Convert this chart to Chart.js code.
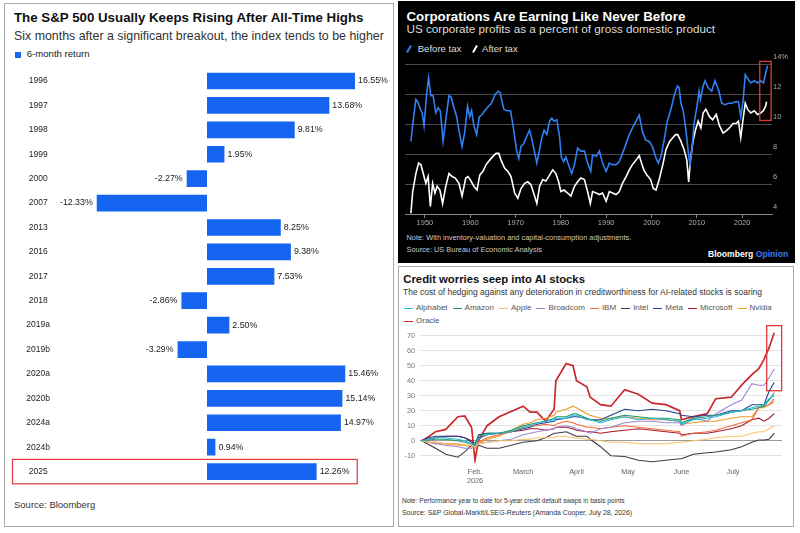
<!DOCTYPE html>
<html lang="en">
<head>
    <meta charset="UTF-8">
    <title>All-time highs, record profits and AI credit worries</title>
    <style>
        body {
            margin: 0;
            width: 800px;
            height: 533px;
            position: relative;
            overflow: hidden;
            background: #fff;
            font-family: "Liberation Sans", Arial, sans-serif;
        }
        .panel { position: absolute; box-sizing: border-box; }
        .txt {
            position: absolute;
            white-space: nowrap;
            line-height: 1;
        }
        .box { position: absolute; }
        .slash {
            position: absolute;
            width: 1.8px;
            height: 8px;
            transform: rotate(30deg);
        }
        #cdsLegend {
            position: absolute;
            left: 404px;
            top: 301.4px;
            width: 385px;
            display: flex;
            flex-wrap: wrap;
            column-gap: 5px;
            font-size: 8px;
            line-height: 13px;
            color: #555;
        }
        #cdsLegend i {
            display: inline-block;
            width: 9px;
            height: 1.5px;
            margin-right: 3px;
            vertical-align: middle;
        }
    </style>
</head>
<body>
    <!-- left panel: S&P 500 after all-time highs -->
    <div class="panel" style="left:4px;top:3px;width:390px;height:524px;border:1px solid #aaa;"></div>
    <div class="txt" style="left:14px;top:11.2px;font-size:13.3px;font-weight:bold;color:#111;">The S&amp;P 500 Usually Keeps Rising After All-Time Highs</div>
    <div class="txt" style="left:14px;top:29.5px;font-size:12.4px;color:#333;">Six months after a significant breakout, the index tends to be higher</div>
    <div class="box" style="left:15px;top:51.5px;width:6px;height:6px;background:#1565f0;"></div>
    <div class="txt" style="left:26.7px;top:48.8px;font-size:9.6px;color:#222;">6-month return</div>
    <div class="box" style="left:0;top:60px;width:395px;height:430px;"><canvas id="barChart"></canvas></div>
    <div class="txt" style="left:14px;top:500px;font-size:9.5px;color:#333;">Source: Bloomberg</div>

    <!-- top right panel: corporate profits -->
    <div class="panel" style="left:398px;top:1px;width:397px;height:262px;background:#000;"></div>
    <div class="txt" style="left:406.5px;top:9.7px;font-size:13.3px;font-weight:bold;color:#fff;">Corporations Are Earning Like Never Before</div>
    <div class="txt" style="left:406.5px;top:23px;font-size:11.7px;color:#ddd;">US corporate profits as a percent of gross domestic product</div>
    <div class="slash" style="left:408px;top:44.5px;background:#2f7ff5;"></div>
    <div class="txt" style="left:417.7px;top:43.8px;font-size:9.6px;color:#ddd;">Before tax</div>
    <div class="slash" style="left:474px;top:44.5px;background:#fff;"></div>
    <div class="txt" style="left:482px;top:43.8px;font-size:9.6px;color:#ddd;">After tax</div>
    <div class="box" style="left:398px;top:50px;width:400px;height:182px;"><canvas id="profitChart"></canvas></div>
    <div class="txt" style="left:406.5px;top:234.2px;font-size:7.4px;color:#ccc;">Note: With inventory-valuation and capital-consumption adjustments.</div>
    <div class="txt" style="left:406.5px;top:245.7px;font-size:7.4px;color:#ccc;">Source: US Bureau of Economic Analysis</div>
    <div class="txt" style="left:708px;top:250px;font-size:8.6px;font-weight:bold;color:#fff;">Bloomberg <span style="color:#3a7cf0;">Opinion</span></div>

    <!-- bottom right panel: credit default swaps -->
    <div class="panel" style="left:398px;top:266px;width:396px;height:261px;border:1px solid #aaa;"></div>
    <div class="txt" style="left:403.3px;top:274.4px;font-size:11.3px;font-weight:bold;color:#111;">Credit worries seep into AI stocks</div>
    <div class="txt" style="left:403px;top:288.3px;font-size:8.5px;color:#333;">The cost of hedging against any deterioration in creditworthiness for AI-related stocks is soaring</div>
    <div id="cdsLegend"></div>
    <div class="box" style="left:398px;top:318px;width:397px;height:176px;"><canvas id="cdsChart"></canvas></div>
    <div class="txt" style="left:402px;top:497.5px;font-size:6.5px;color:#333;">Note: Performance year to date for 5-year credit default swaps in basis points</div>
    <div class="txt" style="left:402px;top:509.6px;font-size:6.9px;color:#333;">Source: S&amp;P Global-Markit/LSEG-Reuters (Amanda Cooper, July 28, 2026)</div>

    <script src="https://cdn.jsdelivr.net/npm/chart.js"></script>
    <script>
        // S&P 500: 6-month return after a breakout to an all-time high
        const breakoutYears = ['1996', '1997', '1998', '1999', '2000', '2007', '2013', '2016', '2017',
            '2018', '2019a', '2019b', '2020a', '2020b', '2024a', '2024b', '2025'];
        const sixMonthReturn = [16.55, 13.68, 9.81, 1.95, -2.27, -12.33, 8.25, 9.38, 7.53,
            -2.86, 2.50, -3.29, 15.46, 15.14, 14.97, 0.94, 12.26];

        // US corporate profits, % of GDP
        const beforeTaxYears = [1946.9, 1947.3, 1948.0, 1948.4, 1949.0, 1949.4, 1949.8, 1950.4, 1950.8, 1951.3,
            1951.8, 1952.4, 1952.9, 1953.4, 1954.0, 1954.8, 1955.3, 1955.8, 1956.4, 1957.0,
            1957.5, 1958.2, 1958.8, 1959.4, 1959.9, 1960.3, 1960.8, 1961.4, 1962.0, 1962.5,
            1963.2, 1964.0, 1964.7, 1965.5, 1966.2, 1966.6, 1967.4, 1968.1, 1968.9, 1969.6,
            1970.2, 1970.7, 1971.2, 1971.8, 1972.5, 1973.1, 1973.6, 1974.0, 1974.7, 1975.3,
            1975.8, 1976.3, 1976.9, 1977.5, 1978.0, 1978.5, 1979.1, 1979.7, 1980.1, 1980.6,
            1981.1, 1981.9, 1982.4, 1983.0, 1983.7, 1984.4, 1985.2, 1985.9, 1986.6, 1987.0,
            1987.8, 1988.5, 1989.2, 1990.0, 1990.7, 1991.4, 1992.2, 1992.9, 1993.6, 1994.4,
            1995.1, 1995.8, 1996.6, 1997.3, 1997.7, 1998.1, 1998.7, 1999.5, 2000.2, 2001.0,
            2001.5, 2002.1, 2002.8, 2003.5, 2004.3, 2005.0, 2005.7, 2006.1, 2006.5, 2007.0,
            2007.6, 2008.1, 2008.5, 2009.0, 2009.4, 2010.0, 2010.5, 2010.8, 2011.4, 2011.8,
            2012.5, 2013.3, 2014.0, 2014.8, 2015.5, 2016.2, 2017.0, 2017.7, 2018.5, 2019.2,
            2019.7, 2020.2, 2020.7, 2021.1, 2021.9, 2022.7, 2023.4, 2024.1, 2024.7, 2025.2,
            2025.6];
        const beforeTaxPct = [8.85, 9.97, 11.65, 11.5, 11.0, 10.75, 9.9, 12.1, 13.1, 11.9,
            11.9, 10.75, 11.1, 10.9, 8.85, 10.75, 11.9, 11.8, 11.1, 10.5,
            9.6, 8.5, 9.5, 11.2, 10.5, 10.9, 9.9, 9.3, 10.5, 10.6,
            10.9, 11.2, 11.4, 12.0, 12.2, 12.1, 11.0, 10.9, 10.9, 9.6,
            8.3, 7.7, 8.5, 8.7, 9.2, 9.6, 9.0, 8.4, 7.4, 8.3,
            9.1, 9.6, 9.3, 10.2, 10.4, 10.2, 10.3, 9.2, 7.8, 7.5,
            7.8, 7.1, 6.7, 7.3, 8.4, 8.2, 8.2, 7.4, 6.85, 7.95,
            7.85, 8.2, 7.4, 6.85, 7.4, 7.3, 7.3, 7.5, 8.05, 8.7,
            9.3, 9.75, 10.2, 10.6, 9.95, 9.4, 8.95, 8.85, 8.5, 7.75,
            7.4, 7.85, 8.95, 10.2, 11.0, 11.9, 12.55, 12.45, 11.4, 10.9,
            9.6, 8.2, 7.3, 8.5, 10.05, 11.1, 12.2, 11.65, 12.55, 12.9,
            12.45, 12.2, 12.9, 12.3, 11.4, 11.3, 11.4, 11.4, 11.5, 11.5,
            10.5, 11.5, 13.3, 13.1, 12.75, 12.9, 12.75, 12.9, 12.75, 13.4,
            13.9];
        const afterTaxYears = [1946.9, 1947.3, 1948.0, 1948.6, 1949.1, 1949.8, 1950.2, 1950.7, 1951.2, 1951.7,
            1952.2, 1952.7, 1953.3, 1953.9, 1954.6, 1955.3, 1956.0, 1956.7, 1957.5, 1958.2,
            1959.0, 1959.5, 1960.0, 1960.8, 1961.5, 1962.1, 1962.8, 1963.5, 1964.3, 1965.0,
            1965.7, 1966.3, 1966.8, 1967.6, 1968.3, 1969.0, 1969.8, 1970.5, 1971.2, 1972.0,
            1972.7, 1973.4, 1974.2, 1974.7, 1975.3, 1976.0, 1976.7, 1977.5, 1978.2, 1978.9,
            1979.5, 1980.0, 1980.7, 1981.5, 1982.2, 1983.0, 1983.7, 1984.4, 1985.2, 1985.9,
            1986.5, 1987.0, 1987.8, 1988.5, 1989.2, 1990.0, 1990.7, 1991.4, 1992.2, 1992.9,
            1993.6, 1994.4, 1995.1, 1995.8, 1996.6, 1997.3, 1997.8, 1998.3, 1999.0, 1999.8,
            2000.4, 2001.0, 2001.7, 2002.5, 2003.2, 2004.0, 2004.7, 2005.3, 2005.8, 2006.5,
            2007.2, 2007.8, 2008.2, 2008.6, 2009.1, 2009.7, 2010.3, 2010.9, 2011.4, 2012.0,
            2012.8, 2013.5, 2014.3, 2015.0, 2015.8, 2016.5, 2017.2, 2018.0, 2018.7, 2019.2,
            2019.7, 2020.2, 2020.7, 2021.2, 2021.9, 2022.7, 2023.4, 2024.1, 2024.7, 2025.2,
            2025.4];
        const afterTaxPct = [4.05, 5.5, 6.7, 7.4, 7.3, 6.5, 6.05, 6.5, 4.5, 6.05,
            5.4, 5.85, 5.6, 4.7, 5.85, 6.7, 6.5, 6.4, 6.05, 5.2,
            6.4, 6.5, 6.3, 5.85, 5.6, 6.6, 6.85, 7.3, 7.6, 7.85,
            8.05, 8.05, 7.6, 7.05, 6.85, 6.5, 5.4, 5.05, 5.7, 6.05,
            6.15, 5.95, 5.2, 4.7, 5.85, 6.3, 6.2, 6.6, 6.95, 6.7,
            6.15, 5.5, 5.6, 5.4, 5.2, 5.85, 6.15, 6.4, 6.3, 5.5,
            4.7, 5.5, 5.4, 5.3, 5.4, 4.85, 5.5, 5.4, 5.3, 5.5,
            6.05, 6.5, 6.95, 7.3, 7.6, 7.9, 7.4, 6.95, 6.6, 6.3,
            5.7, 5.6, 6.3, 7.3, 8.3, 8.85, 9.1, 9.3, 9.3, 8.85,
            8.3, 7.6, 6.15, 7.6, 8.75, 9.6, 10.2, 9.75, 10.75, 11.0,
            10.5, 10.3, 10.65, 9.9, 9.4, 9.55, 9.75, 10.05, 10.05, 10.2,
            9.1, 10.3, 11.4, 11.0, 10.75, 10.9, 10.65, 10.75, 10.9, 11.2,
            11.5];
        const profitYearTicks = [1950, 1960, 1970, 1980, 1990, 2000, 2010, 2020];
        const profitPctTicks = [4, 6, 8, 10, 12, 14];

        // 5-year CDS, change year to date in basis points; x = day of 2026
        const cdsDays = [0, 4, 8, 14, 21, 25, 29, 31, 33, 38, 45, 52, 59, 63, 67, 72, 77, 78, 84, 88,
            90, 96, 98, 104, 110, 118, 126, 134, 142, 150, 151, 158, 166, 171, 180, 186, 192, 196, 199, 202, 205];
        const alphabet = [0, 1, 2, 2, 1, 0, -2, -3, 1, 4, 5, 6, 9, 10, 12, 13, 14, 15, 15, 17,
            17, 14, 14, 12, 14, 16, 14, 15, 14, 13, 11, 14, 15, 16, 19, 20, 22, 23, 24, 28, 30];
        const amazon = [0, 0.5, 1, 1, 0, -1, -2, -2, 3, 5, 5, 7, 10, 11, 12, 13, 15, 16, 16, 18,
            18, 15, 14, 13, 15, 17, 16, 15, 15, 14, 12, 15, 16, 17, 19, 20, 21, 22, 23, 27, 32];
        const apple = [0, -1, -1, -2, -2, -3, -3, -4, -2, -1, 0, 0, 1, 1, 2, 2, 2, 3, 3, 2,
            2, 1, 1, 0, -1, -1, -2, -2, -2, -1, -1, 0, 1, 2, 3, 3, 5, 6, 6, 8, 10];
        const broadcom = [0, -1, -2, -3, -4, -5, -5, -4, -2, -1, 0, 1, 4, 5, 6, 7, 8, 9, 10, 9,
            8, 6, 5, 8, 9, 12, 13, 13, 12, 12, 10, 15, 13, 18, 24, 27, 38, 37, 37, 42, 48];
        const ibm = [0, -1, -1, -2, -2, -3, -3, -4, -1, 2, 4, 6, 9, 10, 10, 11, 10, 11, 13, 12,
            11, 9, 9, 8, 9, 10, 9, 8, 7, 6, 3, 5, 6, 7, 10, 12, 14, 22, 23, 24, 28];
        const intel = [0, -2.5, -5, -9, -11, -7.5, -3, -2, -3, -5, -5, -3, -1, -0.5, 0, 2, 5, 5, 6, 4,
            3, 3, 1, -4, -10, -10.5, -13, -14, -13, -12, -12, -9, -8, -7.5, -6, -4, -1, 0.5, 0.5, 1, 5];
        const meta = [0, 2, 3, 3, 3, 2, -1, -3, 4, 5, 5, 6, 8, 9, 11, 12, 13, 14, 15, 16,
            16, 15, 14, 14, 17, 21, 20, 21, 20, 18, 17, 16, 17, 17, 20, 20, 24, 24, 24, 33, 39];
        const microsoft = [0, 1, 2, 3, 3, 2, 0, -2, 2, 4, 5, 6, 7, 8, 8, 7, 8, 9, 9, 8,
            7, 6, 6, 5, 6, 7, 8, 7, 6, 5, 4, 5, 5, 6, 8, 10, 14, 15, 13, 15, 18];
        const nvidia = [0, -1, -2, -2, -3, -3, -4, -5, -2, 1, 3, 7, 11, 12, 14, 15, 17, 19, 21, 23,
            22, 18, 17, 15, 15, 16, 15, 14, 14, 13, 11, 12, 13, 13, 15, 16, 16, 22, 22, 24, 26];
        const oracle = [0, 2.7, 6, 7.5, 16, 16.5, 9, -13, 0, 10, 16, 19.5, 23, 19, 19, 13, 21, 40, 51.5, 50,
            40, 36, 29, 24, 23, 34, 31, 25, 24, 20, 14, 16, 18, 28, 29, 37, 44, 48, 54, 62, 72];
        const issuers = ['Alphabet', 'Amazon', 'Apple', 'Broadcom', 'IBM', 'Intel', 'Meta', 'Microsoft', 'Nvidia', 'Oracle'];
        const issuerSeries = [alphabet, amazon, apple, broadcom, ibm, intel, meta, microsoft, nvidia, oracle];
        const issuerColors = ['#26b6d6', '#1a9c70', '#f5c26b', '#9d87d6', '#f26a3b',
            '#3b3b48', '#24428f', '#a51c30', '#f39a2a', '#c8282b'];
        const cdsMonthDays = [31, 59, 90, 120, 151, 181];
        const cdsMonthLabels = [['Feb.', '2026'], 'March', 'April', 'May', 'June', 'July'];
        const cdsTicks = [-10, 0, 10, 20, 30, 40, 50, 60, 70];

        // red highlight boxes, in data units
        const profitBox = { x0: 2023.9, x1: 2026.4, y0: 10.25, y1: 14.2 };
        const cdsBox = { x0: 200.6, x1: 209.3, y0: 33.3, y1: 76.7 };

        Chart.defaults.font.family = '"Liberation Sans", Arial, sans-serif';
        Chart.defaults.animation = false;

        // a vertical axis keeps its width but gives no extra top/bottom room to the layout
        function fixedWidth(w) {
            return function(scale) {
                scale.width = w;
                scale.paddingTop = 0;
                scale.paddingBottom = 0;
            };
        }

        function redBox(b) {
            return {
                id: 'redBox',
                afterDatasetsDraw(chart) {
                    const { ctx, scales: { x, y } } = chart;
                    const left = x.getPixelForValue(b.x0), right = x.getPixelForValue(b.x1);
                    const top = y.getPixelForValue(b.y1), bottom = y.getPixelForValue(b.y0);
                    ctx.save();
                    ctx.strokeStyle = '#e0393b';
                    ctx.lineWidth = 1.3;
                    ctx.strokeRect(left, top, right - left, bottom - top);
                    ctx.restore();
                }
            };
        }

        // value labels next to each bar, and the box round the 2025 row
        const barValueLabels = {
            id: 'barValueLabels',
            afterDatasetsDraw(chart) {
                const ctx = chart.ctx;
                const bars = chart.getDatasetMeta(0).data;
                ctx.save();
                ctx.font = '8.8px "Liberation Sans", Arial, sans-serif';
                ctx.fillStyle = '#222';
                ctx.textBaseline = 'middle';
                bars.forEach(function(bar, i) {
                    const v = sixMonthReturn[i];
                    const txt = v.toFixed(2) + '%';
                    if (v >= 0) {
                        ctx.textAlign = 'left';
                        ctx.fillText(txt, bar.x + 3, bar.y);
                    } else {
                        ctx.textAlign = 'right';
                        ctx.fillText(txt, bar.x - 4, bar.y);
                    }
                });

                const { x, y } = chart.scales;
                const row = breakoutYears.indexOf('2025');
                const half = (y.getPixelForValue(1) - y.getPixelForValue(0)) / 2;
                const cy = y.getPixelForValue(row);
                ctx.strokeStyle = '#e0393b';
                ctx.lineWidth = 1.2;
                ctx.strokeRect(12.5, cy - half, x.getPixelForValue(16.8) - 12.5, half * 2);
                ctx.restore();
            }
        };

        new Chart(document.getElementById('barChart'), {
            type: 'bar',
            data: {
                labels: breakoutYears,
                datasets: [{
                    label: '6-month return',
                    data: sixMonthReturn,
                    backgroundColor: '#1565f0',
                    barPercentage: 0.684,
                    categoryPercentage: 1
                }]
            },
            options: {
                indexAxis: 'y',
                responsive: true,
                maintainAspectRatio: false,
                layout: { autoPadding: false, padding: { top: 8.8, bottom: 6.2, left: 0, right: 23 } },
                plugins: { legend: { display: false }, tooltip: { enabled: false } },
                scales: {
                    x: { display: false, min: -14.2, max: 18.45 },
                    y: {
                        grid: { display: false, drawTicks: false },
                        border: { display: false },
                        ticks: { color: '#222', font: { size: 8.5 }, crossAlign: 'center', padding: 30, autoSkip: false },
                        afterFit: fixedWidth(80)
                    }
                }
            },
            plugins: [barValueLabels]
        });

        new Chart(document.getElementById('profitChart'), {
            type: 'line',
            data: {
                datasets: [{
                    label: 'Before tax',
                    data: beforeTaxYears.map(function(yr, i) { return { x: yr, y: beforeTaxPct[i] }; }),
                    borderColor: '#2f7ff5',
                    borderWidth: 1.6,
                    pointRadius: 0
                }, {
                    label: 'After tax',
                    data: afterTaxYears.map(function(yr, i) { return { x: yr, y: afterTaxPct[i] }; }),
                    borderColor: '#ffffff',
                    borderWidth: 1.6,
                    pointRadius: 0
                }]
            },
            options: {
                responsive: true,
                maintainAspectRatio: false,
                layout: { autoPadding: false, padding: { top: 14.3, left: 7, right: 0, bottom: 0 } },
                plugins: { legend: { display: false }, tooltip: { enabled: false } },
                scales: {
                    x: {
                        type: 'linear',
                        min: 1945.6,
                        max: 2026.6,
                        afterBuildTicks: function(scale) { scale.ticks = profitYearTicks.map(function(v) { return { value: v }; }); },
                        grid: { drawOnChartArea: false, color: '#888', tickLength: 4 },
                        border: { color: '#888' },
                        ticks: { color: '#aaa', font: { size: 7.5 }, padding: 0, maxRotation: 0, autoSkip: false,
                            callback: function(v) { return String(v); } },
                        afterFit: function(scale) { scale.height = 18; }
                    },
                    y: {
                        position: 'right',
                        min: 4,
                        max: 14,
                        afterBuildTicks: function(scale) { scale.ticks = profitPctTicks.map(function(v) { return { value: v }; }); },
                        grid: { drawTicks: false, color: function(c) { return c.tick && c.tick.value === 4 ? 'rgba(0,0,0,0)' : '#4a4a4a'; } },
                        border: { display: false },
                        ticks: { color: '#aaa', font: { size: 7.5 }, padding: 1, labelOffset: -7,
                            callback: function(v) { return v === 14 ? '14%' : String(v); } },
                        afterFit: fixedWidth(26)
                    }
                }
            },
            plugins: [redBox(profitBox)]
        });

        // legend for the CDS chart, built from the same names and colours
        const legendBox = document.getElementById('cdsLegend');
        issuers.forEach(function(name, i) {
            const item = document.createElement('span');
            item.innerHTML = '<i style="background:' + issuerColors[i] + '"></i>' + name;
            legendBox.appendChild(item);
        });

        new Chart(document.getElementById('cdsChart'), {
            type: 'line',
            data: {
                datasets: issuers.map(function(name, i) {
                    return {
                        label: name,
                        data: cdsDays.map(function(d, j) { return { x: d, y: issuerSeries[i][j] }; }),
                        borderColor: issuerColors[i],
                        borderWidth: name === 'Oracle' ? 1.7 : 1.1,
                        pointRadius: 0
                    };
                })
            },
            options: {
                responsive: true,
                maintainAspectRatio: false,
                layout: { autoPadding: false, padding: { top: 5.7, left: 2, right: 13, bottom: 0 } },
                plugins: { legend: { display: false }, tooltip: { enabled: false } },
                scales: {
                    x: {
                        type: 'linear',
                        min: -1,
                        max: 209.5,
                        afterBuildTicks: function(scale) { scale.ticks = cdsMonthDays.map(function(v) { return { value: v }; }); },
                        grid: { display: false, drawTicks: false },
                        border: { display: false },
                        ticks: { color: '#666', font: { size: 7.3 }, padding: 4.4, maxRotation: 0, autoSkip: false,
                            callback: function(v) { return cdsMonthLabels[cdsMonthDays.indexOf(v)]; } },
                        afterFit: function(scale) { scale.height = 30.8; }
                    },
                    y: {
                        min: -15,
                        max: 78,
                        afterBuildTicks: function(scale) { scale.ticks = cdsTicks.map(function(v) { return { value: v }; }); },
                        grid: { drawTicks: false, color: function(c) { return c.tick && c.tick.value === 0 ? '#9a9a9a' : '#e3e3e3'; } },
                        border: { display: false },
                        ticks: { color: '#777', font: { size: 7.3 }, padding: 5 },
                        afterFit: fixedWidth(20)
                    }
                }
            },
            plugins: [redBox(cdsBox)]
        });
    </script>
</body>
</html>
